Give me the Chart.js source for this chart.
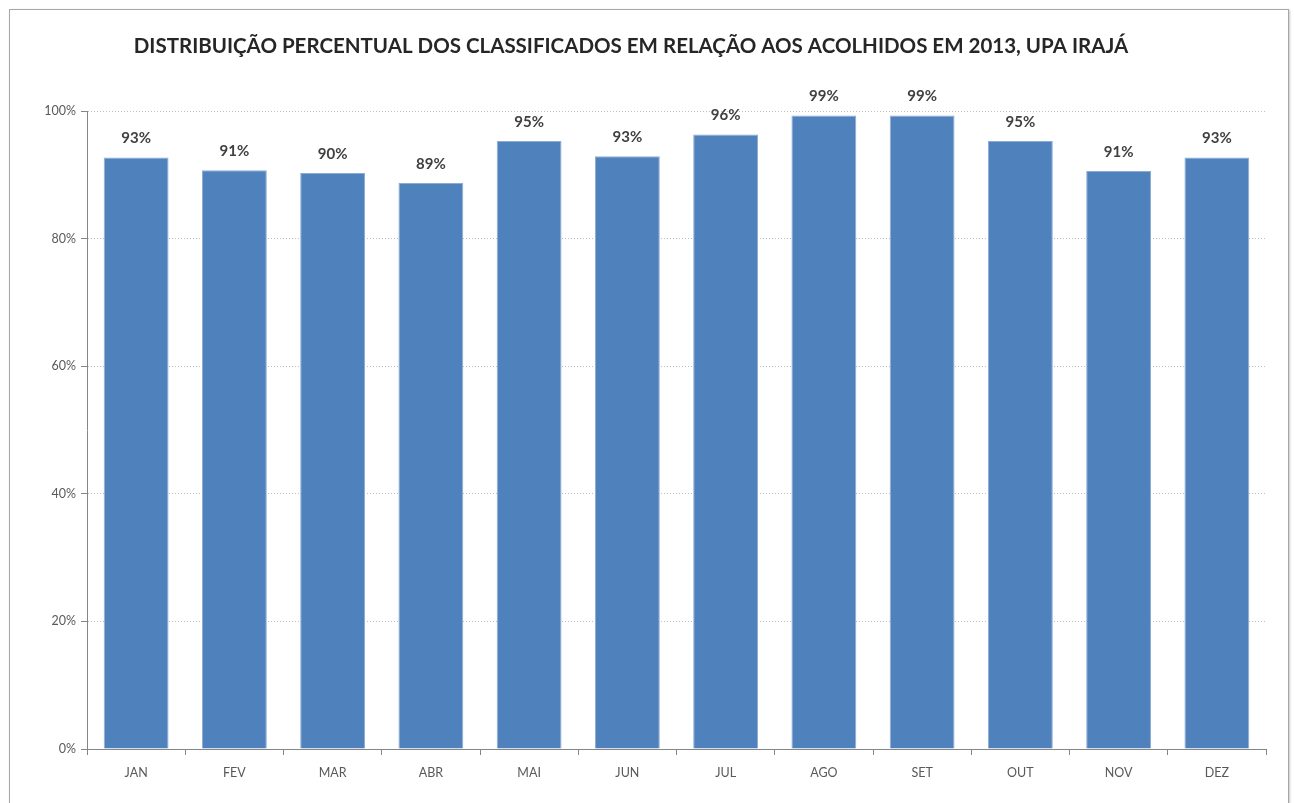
<!DOCTYPE html>
<html>
<head>
<meta charset="utf-8">
<script src="https://cdn.jsdelivr.net/npm/chart.js@4/dist/chart.umd.min.js"></script>
<style>
    html, body { margin: 0; padding: 0; background: #fff; }
    #wrap { position: relative; width: 1294px; height: 803px; }
    #frame {
        position: absolute; left: 9px; top: 9px; width: 1278px; height: 800px;
        border: 1px solid #a6a6a6; box-shadow: 1px 1px 2px #c8c8c8; pointer-events: none;
    }
</style>
</head>
<body>
<div id="wrap">
    <canvas id="chart" width="1294" height="803"></canvas>
    <div id="frame"></div>
</div>
<script>
const months = ['JAN', 'FEV', 'MAR', 'ABR', 'MAI', 'JUN', 'JUL', 'AGO', 'SET', 'OUT', 'NOV', 'DEZ'];
const percentages = [92.7, 90.7, 90.3, 88.7, 95.3, 92.9, 96.3, 99.3, 99.3, 95.3, 90.6, 92.7];
const yTicks = [0, 20, 40, 60, 80, 100];
const chartTitle = 'DISTRIBUIÇÃO PERCENTUAL DOS CLASSIFICADOS EM RELAÇÃO AOS ACOLHIDOS EM 2013, UPA IRAJÁ';

const FONT = 'Lato, "Open Sans", "DejaVu Sans", sans-serif';

// value above each bar + the title (placed a bit left of centre like the original)
const barLabels = {
    id: 'barLabels',
    afterDatasetsDraw(chart) {
        const ctx = chart.ctx;
        const meta = chart.getDatasetMeta(0);
        ctx.save();
        ctx.font = `bold 15px ${FONT}`;
        ctx.fillStyle = '#404040';
        ctx.textAlign = 'center';
        ctx.textBaseline = 'middle';
        meta.data.forEach((bar, i) => {
            ctx.fillText(Math.round(percentages[i]) + '%', bar.x, bar.y - 19);
        });

        ctx.font = `bold 20.5px ${FONT}`;
        ctx.fillStyle = '#262626';
        ctx.fillText(chartTitle, 631, 46);
        ctx.restore();
    }
};

new Chart(document.getElementById('chart').getContext('2d'), {
    type: 'bar',
    data: {
        labels: months,
        datasets: [{
            data: percentages,
            backgroundColor: '#4F81BD',
            borderColor: '#8EACD3',
            borderWidth: 1,
            categoryPercentage: 0.66,
            barPercentage: 1.0
        }]
    },
    options: {
        responsive: false,
        animation: false,
        layout: { padding: { left: 27, right: 28, top: 111, bottom: 0 } },
        plugins: {
            legend: { display: false },
            tooltip: { enabled: false },
            title: { display: false }
        },
        scales: {
            x: {
                grid: {
                    offset: true,
                    drawOnChartArea: false,
                    color: '#868686',
                    tickLength: 6
                },
                border: { color: '#868686', width: 1 },
                ticks: {
                    color: '#595959',
                    font: { family: FONT, size: 12.5 },
                    padding: 10
                },
                afterFit: s => { s.height = 54; }
            },
            y: {
                min: 0,
                max: 100,
                afterBuildTicks: s => { s.ticks = yTicks.map(v => ({ value: v })); },
                grid: {
                    color: '#bfbfbf',
                    tickColor: '#868686',
                    tickLength: 6
                },
                border: { color: '#868686', width: 1, dash: [1, 2] },
                ticks: {
                    color: '#595959',
                    font: { family: FONT, size: 12.5 },
                    padding: 5,
                    callback: v => v + '%'
                },
                afterFit: s => { s.width = 60; }
            }
        }
    },
    plugins: [barLabels]
});
</script>
</body>
</html>
